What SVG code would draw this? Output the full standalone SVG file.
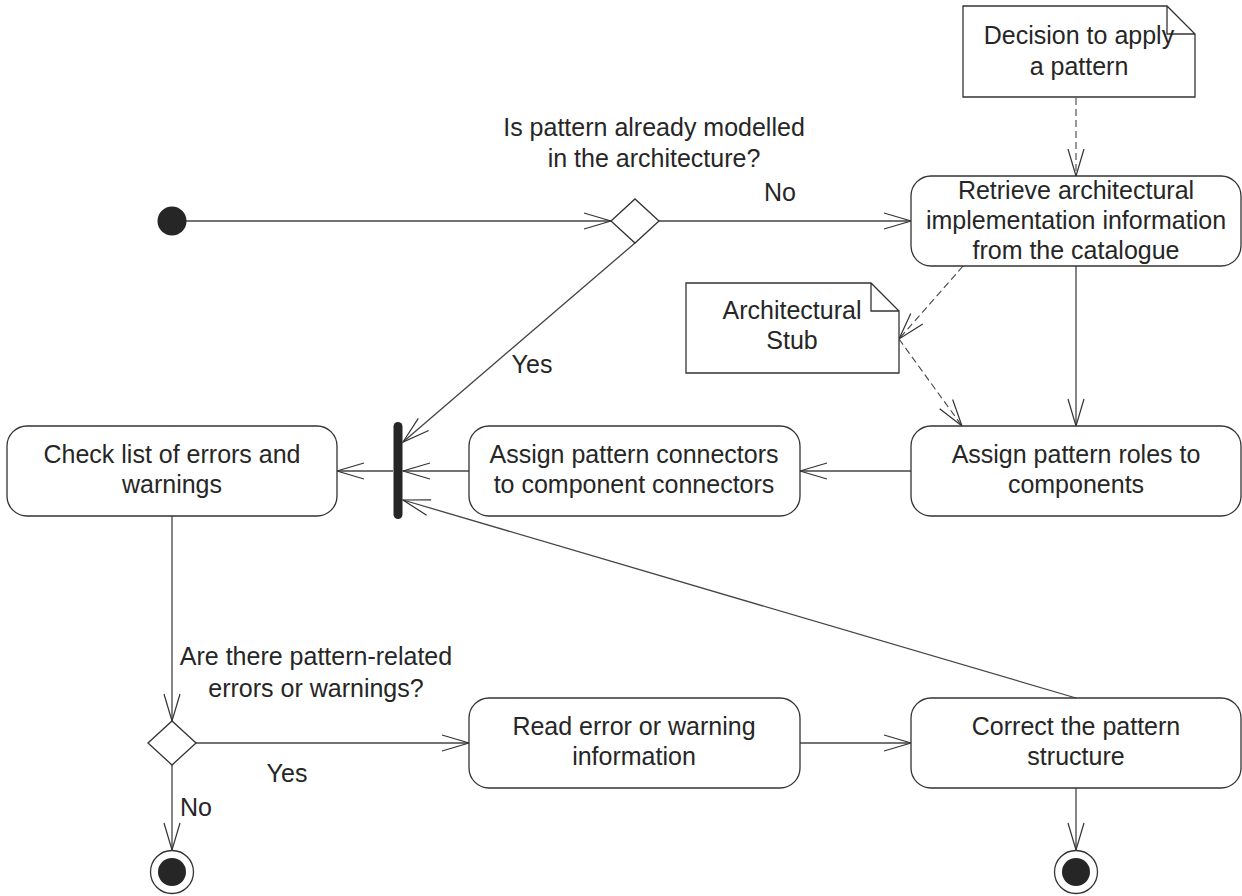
<svg xmlns="http://www.w3.org/2000/svg" width="1242" height="896" viewBox="0 0 1242 896">
<style>
text{font-family:"Liberation Sans",Arial,sans-serif;font-size:25px;fill:#262626;text-anchor:middle}
.box{fill:#fff;stroke:#333;stroke-width:1.3}
.note{fill:#fff;stroke:#333;stroke-width:1.3}
.c{fill:none;stroke:#444;stroke-width:1.3}
.d{fill:none;stroke:#444;stroke-width:1.1;stroke-dasharray:7 4}
.solid{fill:#262626}
</style>
<defs>
<marker id="a" viewBox="-29 -10 31 20" refX="0" refY="0" markerWidth="31" markerHeight="20" markerUnits="userSpaceOnUse" orient="auto">
<path d="M-27,-8 L0,0 L-27,8" fill="none" stroke="#333" stroke-width="1.2"/>
</marker>
</defs>
<g id="connectors">
<line class="c" x1="186" y1="221" x2="611" y2="221" marker-end="url(#a)"/>
<line class="c" x1="659" y1="221" x2="911" y2="221" marker-end="url(#a)"/>
<line class="c" x1="635" y1="243" x2="403" y2="442" marker-end="url(#a)"/>
<line class="d" x1="1076" y1="98" x2="1076" y2="176" marker-end="url(#a)"/>
<line class="c" x1="1076" y1="266" x2="1076" y2="426" marker-end="url(#a)"/>
<line class="d" x1="963" y1="266" x2="899" y2="339" marker-end="url(#a)"/>
<line class="d" x1="899" y1="339" x2="962" y2="426" marker-end="url(#a)"/>
<line class="c" x1="911" y1="471" x2="800" y2="471" marker-end="url(#a)"/>
<line class="c" x1="469" y1="471" x2="403" y2="471" marker-end="url(#a)"/>
<line class="c" x1="393" y1="471" x2="337" y2="471" marker-end="url(#a)"/>
<line class="c" x1="1076" y1="698" x2="403" y2="500" marker-end="url(#a)"/>
<line class="c" x1="172" y1="516" x2="172" y2="721" marker-end="url(#a)"/>
<line class="c" x1="196" y1="743" x2="469" y2="743" marker-end="url(#a)"/>
<line class="c" x1="172" y1="765" x2="172" y2="850" marker-end="url(#a)"/>
<line class="c" x1="800" y1="743" x2="911" y2="743" marker-end="url(#a)"/>
<line class="c" x1="1076" y1="788" x2="1076" y2="850" marker-end="url(#a)"/>
<text x="654" y="136">Is pattern already modelled</text>
<text x="654" y="167">in the architecture?</text>
<text x="780" y="201">No</text>
<text x="532" y="373">Yes</text>
<text x="316" y="665">Are there pattern-related</text>
<text x="316" y="697">errors or warnings?</text>
<text x="287" y="782">Yes</text>
<text x="196" y="816">No</text>
</g>
<g id="initial"><circle class="solid" cx="172" cy="221" r="14.5"/></g>
<g id="decision1"><polygon class="box" points="611,221 635,199 659,221 635,243"/></g>
<g id="decision2"><polygon class="box" points="148,743 172,721 196,743 172,765"/></g>
<g id="fork"><rect class="solid" x="393.5" y="422" width="9" height="97" rx="4.5"/></g>
<g id="note-decision">
<path class="note" d="M963,6 H1167 L1195,34 V97 H963 Z M1167,6 V34 H1195"/>
<text x="1079" y="44">Decision to apply</text>
<text x="1079" y="75">a pattern</text>
</g>
<g id="note-stub">
<path class="note" d="M686,283 H871 L899,311 V373 H686 Z M871,283 V311 H899"/>
<text x="792" y="319">Architectural</text>
<text x="792" y="349">Stub</text>
</g>
<g id="retrieve">
<rect class="box" x="911" y="176" width="330" height="90" rx="20"/>
<text x="1076" y="199">Retrieve architectural</text>
<text x="1076" y="229">implementation information</text>
<text x="1076" y="259">from the catalogue</text>
</g>
<g id="assign-roles">
<rect class="box" x="911" y="426" width="330" height="90" rx="20"/>
<text x="1076" y="463">Assign pattern roles to</text>
<text x="1076" y="493">components</text>
</g>
<g id="assign-connectors">
<rect class="box" x="469" y="426" width="331" height="90" rx="20"/>
<text x="634" y="463">Assign pattern connectors</text>
<text x="634" y="493">to component connectors</text>
</g>
<g id="check">
<rect class="box" x="7" y="426" width="330" height="90" rx="20"/>
<text x="172" y="463">Check list of errors and</text>
<text x="172" y="493">warnings</text>
</g>
<g id="read">
<rect class="box" x="469" y="698" width="331" height="90" rx="20"/>
<text x="634" y="735">Read error or warning</text>
<text x="634" y="765">information</text>
</g>
<g id="correct">
<rect class="box" x="911" y="698" width="330" height="90" rx="20"/>
<text x="1076" y="735">Correct the pattern</text>
<text x="1076" y="765">structure</text>
</g>
<g id="final1"><circle class="box" cx="172" cy="872" r="21.5"/><circle class="solid" cx="172" cy="872" r="14"/></g>
<g id="final2"><circle class="box" cx="1076" cy="872" r="21.5"/><circle class="solid" cx="1076" cy="872" r="14"/></g>
</svg>
